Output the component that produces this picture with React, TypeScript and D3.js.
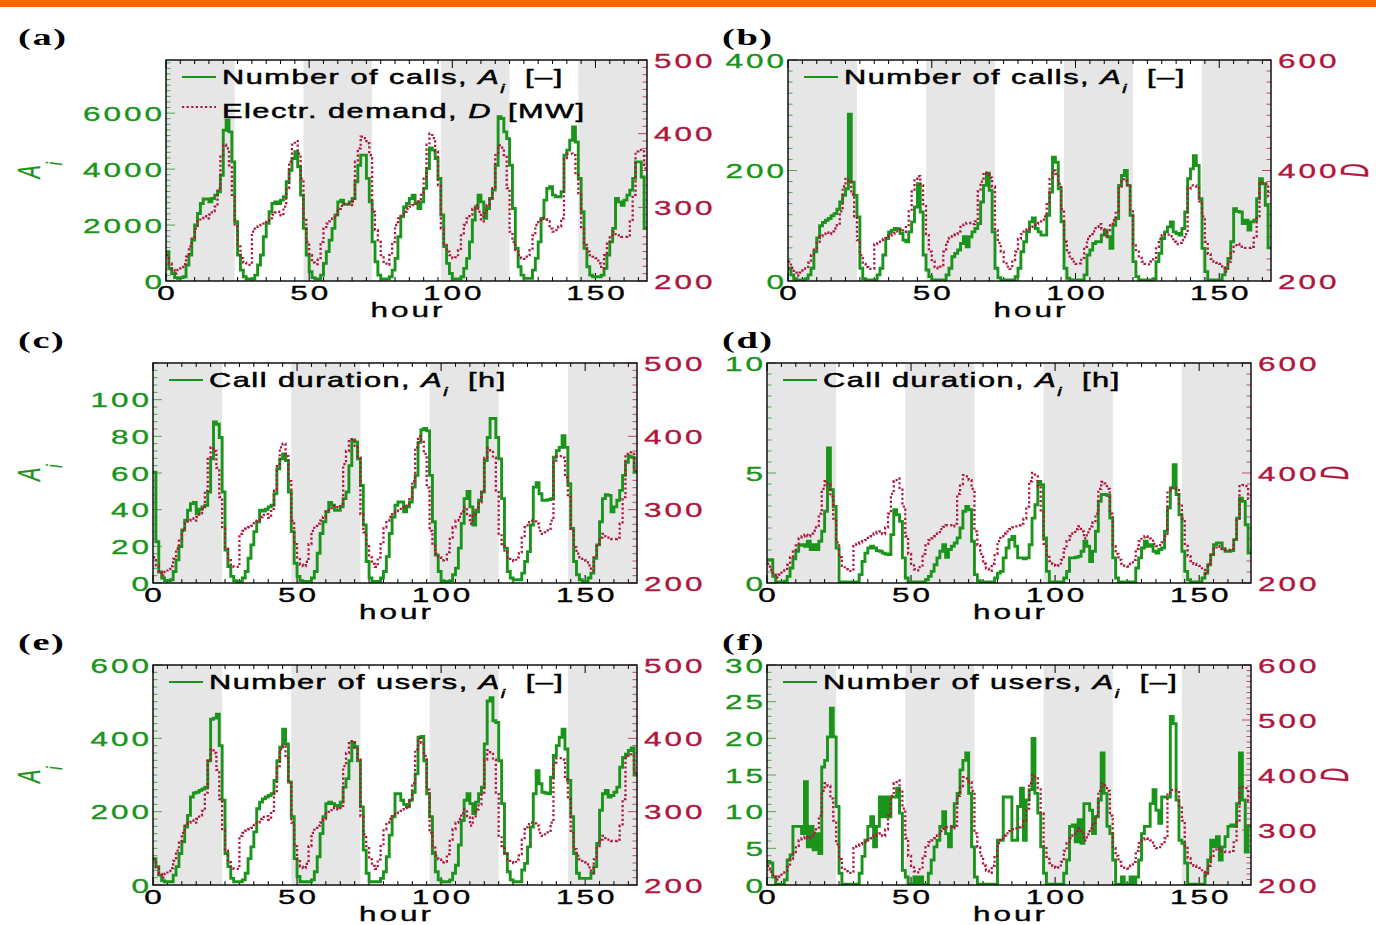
import React from "react";
import * as d3 from "d3";

// hourly values over one week (168 h)
const demandMW = [
  235, 224, 215, 210, 215, 219, 223, 233, 247, 260, 271, 281, 285, 288, 285, 290, 295, 301, 326, 371, 385, 380, 357, 317,
  274, 247, 231, 225, 222, 222, 267, 271, 274, 276, 278, 282, 285, 290, 293, 294, 289, 301, 326, 362, 385, 390, 373, 339,
  285, 253, 235, 225, 223, 229, 253, 271, 278, 281, 285, 290, 298, 302, 305, 305, 303, 308, 362, 380, 396, 394, 387, 371,
  294, 269, 253, 235, 226, 222, 235, 253, 276, 285, 290, 294, 298, 301, 303, 305, 308, 317, 339, 385, 400, 394, 376, 330,
  271, 251, 240, 235, 231, 232, 242, 262, 276, 285, 290, 298, 303, 294, 281, 292, 303, 310, 326, 371, 384, 381, 371, 326,
  267, 253, 242, 235, 231, 230, 235, 242, 262, 276, 283, 285, 284, 281, 271, 267, 269, 274, 285, 367, 373, 373, 371, 344,
  317, 271, 249, 240, 235, 233, 231, 224, 217, 235, 253, 262, 267, 262, 262, 260, 260, 262, 281, 317, 376, 378, 376, 353,
];

const callsA = [
  1050, 450, 270, 120, 95, 120, 150, 570, 930, 1460, 2000, 2415, 2770, 2930, 2930, 2830, 2950, 3070, 3190, 3780, 5390, 5750, 5330, 4260,
  2120, 930, 390, 150, 70, 70, 70, 210, 570, 930, 1580, 2060, 2475, 2770, 2830, 2770, 2890, 3010, 3550, 3960, 4380, 4620, 4080, 3070,
  1880, 930, 330, 120, 70, 70, 210, 630, 1050, 1460, 1880, 2360, 2830, 2890, 2740, 2740, 2830, 2950, 3550, 4140, 4500, 4500, 3670, 2830,
  1400, 690, 210, 70, 70, 70, 150, 390, 810, 1580, 2300, 2650, 2770, 2950, 3070, 2770, 2590, 2830, 3310, 4020, 4760, 4680, 4380, 3670,
  2360, 1230, 630, 270, 70, 70, 70, 150, 450, 810, 1400, 2180, 2650, 3070, 2830, 2240, 2590, 2950, 3250, 4140, 5870, 5810, 5330, 5090,
  4140, 2590, 1170, 510, 210, 95, 95, 95, 390, 810, 1400, 2240, 2890, 3310, 3370, 3070, 3010, 3010, 3190, 4500, 4680, 5030, 5510, 4970,
  3670, 2475, 1170, 510, 210, 150, 150, 150, 210, 450, 930, 1400, 1880, 2950, 2830, 2710, 2890, 3070, 3250, 3670, 4260, 4260, 3720, 1900,
];

const callsB = [
  23, 11, 4, 2, 2, 2, 4, 11, 23, 53, 78, 100, 106, 110, 113, 118, 122, 130, 143, 155, 167, 302, 179, 155,
  116, 23, 4, 2, 2, 2, 2, 11, 23, 47, 77, 89, 92, 95, 94, 86, 74, 71, 89, 107, 134, 176, 125, 47,
  20, 8, 2, 2, 2, 2, 2, 11, 23, 44, 50, 56, 68, 80, 62, 80, 89, 95, 104, 143, 173, 195, 164, 89,
  23, 6, 2, 2, 2, 2, 2, 8, 23, 53, 71, 89, 107, 114, 95, 89, 83, 83, 119, 161, 224, 215, 167, 107,
  23, 5, 2, 2, 2, 2, 2, 11, 47, 56, 68, 71, 71, 83, 92, 80, 59, 101, 113, 173, 191, 200, 173, 119,
  35, 8, 2, 2, 2, 2, 2, 4, 35, 50, 77, 89, 98, 107, 89, 86, 83, 95, 125, 185, 203, 227, 209, 149,
  59, 17, 2, 2, 2, 2, 2, 11, 23, 41, 71, 131, 126, 125, 104, 110, 92, 107, 110, 149, 185, 176, 137, 60,
];

const durationA = [
  60.5, 22.5, 6, 2.7, 1.3, 1.3, 1.8, 6.3, 12.6, 19.9, 28.9, 34.3, 39.7, 43.3, 43.9, 37.9, 40.2, 41.5, 42.4, 49.6, 67.7, 87.9, 86.6, 79.4,
  49.6, 18, 9, 3.6, 1.3, 0.9, 0.9, 2.7, 6.3, 13.5, 20.8, 28, 33.4, 39.7, 39.2, 40.2, 41.5, 42.4, 48.7, 62.3, 67.7, 70.4, 66.8, 49.6,
  28, 10.8, 3.6, 1.3, 0.9, 0.9, 0.9, 2.7, 6.3, 16.2, 27, 33.4, 38.8, 43.9, 42.4, 39.7, 39.7, 41.5, 46, 49.6, 64, 78, 77, 67.7,
  53.2, 31.6, 11.7, 2.7, 0.9, 0.9, 0.9, 2.7, 6.3, 14.4, 27, 36, 42.4, 44.2, 44.2, 38.8, 41.5, 44.2, 52.3, 58.7, 76.7, 83.6, 84.3, 83,
  58.7, 33.4, 15.3, 6.3, 1.3, 0.9, 0.9, 1.3, 4.5, 8.1, 19, 32.5, 46, 50, 41.5, 31.6, 38.8, 45.1, 49.6, 66.8, 79.4, 89.7, 89.7, 79.4,
  67.7, 46, 19, 6.3, 2.7, 1.8, 1.8, 1.8, 5.4, 11.7, 17.1, 31.6, 52.3, 54.7, 48.7, 45.1, 45.1, 45.5, 46, 68.6, 72.2, 74, 80.3, 74,
  54.2, 29.8, 11.7, 4.5, 1.8, 0.9, 0.9, 2.7, 5.4, 13.5, 20.8, 33.4, 46, 48.2, 47.8, 38.8, 41.5, 45.1, 50.5, 58.7, 65.9, 69.1, 68.6, 60.5,
];

const durationB = [
  1.06, 1.06, 0.3, 0.05, 0.05, 0.05, 0.08, 0.3, 0.68, 1.1, 1.44, 1.71, 1.74, 1.67, 1.9, 1.52, 1.74, 1.52, 1.9, 2.35, 3.26, 6.14, 4.24, 3.48,
  1.59, 0.05, 0.05, 0.05, 0.05, 0.05, 0.05, 0.05, 0.38, 0.98, 1.36, 1.59, 1.67, 1.59, 1.47, 1.44, 1.36, 1.32, 1.29, 2.2, 3.33, 3.1, 2.8, 1.14,
  0.23, 0.05, 0.05, 0.05, 0.05, 0.05, 0.05, 0.15, 0.3, 0.53, 0.83, 1.14, 1.44, 1.74, 1.17, 1.52, 1.67, 1.82, 2.05, 2.5, 3.26, 3.48, 3.33, 1.9,
  0.38, 0.1, 0.05, 0.05, 0.05, 0.05, 0.05, 0.23, 0.45, 0.53, 1.14, 1.59, 1.97, 2.12, 1.67, 1.14, 1.14, 1.1, 1.14, 1.74, 2.95, 3.56, 4.62, 4.47,
  2.05, 0.53, 0.05, 0.05, 0.05, 0.05, 0.05, 0.23, 0.53, 1.14, 1.14, 1.17, 1.21, 1.44, 1.9, 1.67, 0.98, 1.44, 2.35, 3.71, 4.02, 4.02, 3.98, 2.95,
  1.14, 0.23, 0.05, 0.05, 0.05, 0.05, 0.05, 0.05, 0.68, 1.14, 1.59, 1.9, 1.67, 1.74, 1.44, 1.36, 1.52, 1.59, 2.35, 3.41, 4.32, 5.38, 4.02, 3.1,
  1.44, 0.53, 0.15, 0.05, 0.05, 0.05, 0.05, 0.23, 0.45, 0.83, 1.29, 1.74, 1.82, 1.82, 1.56, 1.44, 1.44, 1.47, 1.97, 2.95, 3.86, 3.71, 2.65, 1.36,
];

const usersA = [
  72, 50, 27, 12, 9, 9, 9, 27, 50, 86, 118, 158, 190, 240, 251, 253, 258, 262, 267, 339, 452, 455, 466, 380,
  231, 86, 50, 18, 9, 9, 9, 14, 32, 72, 104, 145, 208, 226, 235, 240, 244, 249, 285, 339, 376, 425, 385, 281,
  186, 72, 23, 9, 9, 9, 9, 14, 36, 77, 140, 186, 222, 226, 222, 217, 213, 226, 267, 290, 339, 389, 377, 339,
  213, 95, 32, 9, 9, 9, 9, 18, 36, 77, 136, 186, 249, 249, 231, 220, 213, 231, 253, 303, 403, 405, 339, 249,
  186, 86, 36, 14, 9, 9, 9, 14, 32, 54, 109, 176, 231, 249, 222, 195, 226, 249, 267, 385, 502, 511, 448, 443,
  339, 222, 86, 36, 14, 9, 9, 9, 41, 59, 104, 158, 249, 312, 276, 253, 251, 249, 294, 353, 380, 403, 425, 371,
  285, 186, 86, 32, 18, 18, 18, 18, 32, 50, 113, 204, 249, 258, 240, 244, 253, 267, 321, 348, 357, 367, 374, 300,
];

const usersB = [
  3.2, 3, 1.1, 0.1, 0.1, 0.1, 0.7, 3.4, 4.1, 8, 8, 8, 7, 14.1, 5.2, 8, 4.8, 7, 4.3, 16.1, 17, 20.2, 24.1, 20.2,
  10.7, 1.6, 0.1, 0.1, 0.1, 0.1, 0.1, 0.1, 1.6, 3.9, 6.1, 8, 9.3, 5.2, 8, 12, 9.3, 12, 9.3, 12, 12, 13.2, 9.8, 2,
  1.1, 0.1, 0.1, 1.1, 0.1, 1.1, 0.1, 0.1, 1.6, 3.4, 5.2, 6.1, 8, 10, 7, 5.2, 8, 11.1, 12.5, 15.7, 17, 18, 12.5, 5.2,
  1.1, 0.1, 0.1, 0.1, 0.1, 0.1, 0.1, 0.1, 6.1, 6.1, 12, 12, 12, 6.1, 6.1, 10.7, 13.2, 6.1, 11.6, 13, 20, 12.5, 9.8, 5.2,
  1.6, 0.1, 0.1, 0.1, 0.1, 0.1, 0.1, 1.6, 3.4, 8, 8.2, 5.9, 8.9, 5.7, 11.1, 11.1, 10.2, 7, 9.3, 11.6, 18, 12.5, 8, 7,
  3.4, 0.1, 0.1, 1.1, 0.1, 0.1, 1.1, 0.1, 1.1, 3.4, 7, 8, 8, 11.1, 13, 10.2, 8.4, 12, 12, 12, 23, 22, 11.6, 6.1,
  5.7, 3, 0.1, 0.1, 0.1, 0.1, 0.1, 0.1, 1.6, 3.4, 6.1, 5.2, 6.6, 3.4, 5.2, 6.6, 8, 8.2, 8, 11.1, 18, 11.6, 4.5, 8,
];

const shadedDays = [0, 2, 4, 6];
const hourTicks = [0, 50, 100, 150];

const GREEN = "#1a941a";
const RED = "#b0163e";
const SANS = "'Liberation Sans', Arial, Helvetica, sans-serif";
const SERIF = "'Liberation Serif', 'Times New Roman', serif";

const panels = [
  { tag: "(a)", left: 166, top: 60, width: 481, height: 221, values: callsA, yMax: 7900, yTicks: [0, 2000, 4000, 6000], yMinor: 200, dMax: 500, dTicks: [200, 300, 400, 500], dMinor: 10, name: "Number of calls, ", unit: " [–]", demandLegend: true, side: "left" },
  { tag: "(b)", left: 788, top: 60, width: 483, height: 221, values: callsB, yMax: 400, yTicks: [0, 200, 400], yMinor: 20, dMax: 600, dTicks: [200, 400, 600], dMinor: 20, name: "Number of calls, ", unit: " [–]", demandLegend: false, side: "right" },
  { tag: "(c)", left: 153, top: 363, width: 484, height: 220, values: durationA, yMax: 120, yTicks: [0, 20, 40, 60, 80, 100], yMinor: 4, dMax: 500, dTicks: [200, 300, 400, 500], dMinor: 10, name: "Call duration, ", unit: " [h]", demandLegend: false, side: "left" },
  { tag: "(d)", left: 767, top: 363, width: 484, height: 220, values: durationB, yMax: 10, yTicks: [0, 5, 10], yMinor: 0.5, dMax: 600, dTicks: [200, 400, 600], dMinor: 20, name: "Call duration, ", unit: " [h]", demandLegend: false, side: "right" },
  { tag: "(e)", left: 153, top: 665, width: 484, height: 220, values: usersA, yMax: 600, yTicks: [0, 200, 400, 600], yMinor: 20, dMax: 500, dTicks: [200, 300, 400, 500], dMinor: 10, name: "Number of users, ", unit: " [–]", demandLegend: false, side: "left" },
  { tag: "(f)", left: 767, top: 665, width: 484, height: 220, values: usersB, yMax: 30, yTicks: [0, 5, 10, 15, 20, 25, 30], yMinor: 1, dMax: 600, dTicks: [200, 300, 400, 500, 600], dMinor: 10, name: "Number of users, ", unit: " [–]", demandLegend: false, side: "right" },
];

function Txt({ x, y, size, fill = "#000", anchor = "start", sx = 1.5, ls = 0, italic = false, bold = false, family = SANS, rotate = 0, thick = 0.35, children }: any) {
  const tf = `translate(${x},${y}) scale(${sx},1)` + (rotate ? ` rotate(${rotate})` : "");
  return (
    <text transform={tf} fontSize={size} fill={fill} stroke={fill} strokeWidth={thick} textAnchor={anchor} letterSpacing={ls}
      fontStyle={italic ? "italic" : "normal"} fontWeight={bold ? "bold" : "normal"} fontFamily={family}>
      {children}
    </text>
  );
}

function Panel({ p, idx }: any) {
  const right = p.left + p.width;
  const bottom = p.top + p.height;
  const x = d3.scaleLinear().domain([0, 168]).range([p.left, right]);
  const y = d3.scaleLinear().domain([0, p.yMax]).range([bottom, p.top]);
  const yd = d3.scaleLinear().domain([200, p.dMax]).range([bottom, p.top]);

  const step = (vals: number[], sc: any) =>
    d3.line<number>().x((_, i) => x(i)).y((v) => sc(v)).curve(d3.curveStepAfter)([...vals, vals[vals.length - 1]]) || "";

  const clipId = `clip${idx}`;
  const minorX = d3.range(0, 168.01, 5);
  const minorY = d3.range(0, p.yMax + 1e-6, p.yMinor);
  const minorD = d3.range(200, p.dMax + 1e-6, p.dMinor);
  const lx = p.left + 16;

  return (
    <g>
      <defs>
        <clipPath id={clipId}>
          <rect x={p.left} y={p.top} width={p.width} height={p.height} />
        </clipPath>
      </defs>
      {shadedDays.map((d) => (
        <rect key={d} x={x(d * 24)} y={p.top} width={x((d + 1) * 24) - x(d * 24)} height={p.height} fill="#e6e6e6" />
      ))}

      {/* ticks */}
      {minorX.map((h) => {
        const len = h % 50 === 0 ? 8 : 4;
        return (
          <g key={h}>
            <line x1={x(h)} x2={x(h)} y1={bottom} y2={bottom - len} stroke="#000" strokeWidth={1} />
            <line x1={x(h)} x2={x(h)} y1={p.top} y2={p.top + len} stroke="#000" strokeWidth={1} />
          </g>
        );
      })}
      {minorY.map((v) => {
        const major = p.yTicks.some((t: number) => Math.abs(t - v) < 1e-6);
        return <line key={v} x1={p.left} x2={p.left + (major ? 9 : 4.5)} y1={y(v)} y2={y(v)} stroke={GREEN} strokeOpacity={0.75} strokeWidth={1} />;
      })}
      {minorD.map((v) => {
        const major = p.dTicks.some((t: number) => Math.abs(t - v) < 1e-6);
        return <line key={v} x1={right} x2={right - (major ? 9 : 4.5)} y1={yd(v)} y2={yd(v)} stroke={RED} strokeOpacity={0.75} strokeWidth={1} />;
      })}

      <g clipPath={`url(#${clipId})`}>
        <path d={step(p.values, y)} fill="none" stroke={GREEN} strokeWidth={2.9} strokeLinejoin="miter" />
        <path d={step(demandMW, yd)} fill="none" stroke={RED} strokeWidth={2.3} strokeDasharray="2.2 2.4" />
      </g>
      <rect x={p.left} y={p.top} width={p.width} height={p.height} fill="none" stroke="#000" strokeWidth={1.4} />

      {/* legend */}
      <line x1={lx} x2={lx + 34} y1={p.top + 17} y2={p.top + 17} stroke={GREEN} strokeWidth={2.2} />
      <Txt x={p.left + 56} y={p.top + 23.5} size={20.5} ls={1} thick={0.5}>
        {p.name}
        <tspan fontStyle="italic">A</tspan>
        <tspan fontStyle="italic" fontSize={13} dy={9}>i</tspan>
        <tspan dy={-9} dx={6}>{p.unit}</tspan>
      </Txt>
      {p.demandLegend && (
        <g>
          <line x1={lx} x2={lx + 34} y1={p.top + 47} y2={p.top + 47} stroke={RED} strokeWidth={2.2} strokeDasharray="2.2 2.4" />
          <Txt x={p.left + 56} y={p.top + 57.5} size={20.5} ls={1} thick={0.5}>
            {"Electr. demand, "}
            <tspan fontStyle="italic">D</tspan>
            <tspan dx={4}>{" [MW]"}</tspan>
          </Txt>
        </g>
      )}

      {/* tick labels */}
      {p.yTicks.map((v: number) => (
        <Txt key={v} x={p.left - 1} y={y(v) + 7.5} size={21} ls={2} anchor="end" fill={GREEN}>{v}</Txt>
      ))}
      {p.dTicks.map((v: number) => (
        <Txt key={v} x={right + 7} y={yd(v) + 7.5} size={21} ls={2} fill={RED}>{v}</Txt>
      ))}
      {hourTicks.map((h) => (
        <Txt key={h} x={x(h) + 1.5} y={bottom + 19} size={21} ls={2} anchor="middle">{h}</Txt>
      ))}
      <Txt x={(p.left + right) / 2 + 1.5} y={bottom + 36} size={21} ls={2} anchor="middle">hour</Txt>

      {/* axis titles */}
      {p.side === "left" ? (
        <Txt x={40} y={p.top + p.height / 2 + 8} size={20} sx={1.55} rotate={-90} fill={GREEN} italic thick={0.2}>
          A<tspan fontSize={14} dy={14}>i</tspan>
        </Txt>
      ) : (
        <Txt x={right + 97} y={p.top + p.height / 2} size={19} sx={2} rotate={-90} fill={RED} italic anchor="middle" thick={0.2}>D</Txt>
      )}

      <Txt x={p.side === "left" ? 18 : 722} y={p.top - 15} size={24} sx={1.6} ls={1} bold family={SERIF} thick={0}>{p.tag}</Txt>
    </g>
  );
}

export default function App() {
  return (
    <svg width={1376} height={925} style={{ position: "absolute", left: 0, top: 0, background: "#fff" }}>
      <rect x={0} y={0} width={1376} height={925} fill="#fff" />
      <rect x={0} y={0} width={1376} height={7} fill="#ff6600" />
      {panels.map((p, i) => (
        <Panel key={p.tag} p={p} idx={i} />
      ))}
    </svg>
  );
}
